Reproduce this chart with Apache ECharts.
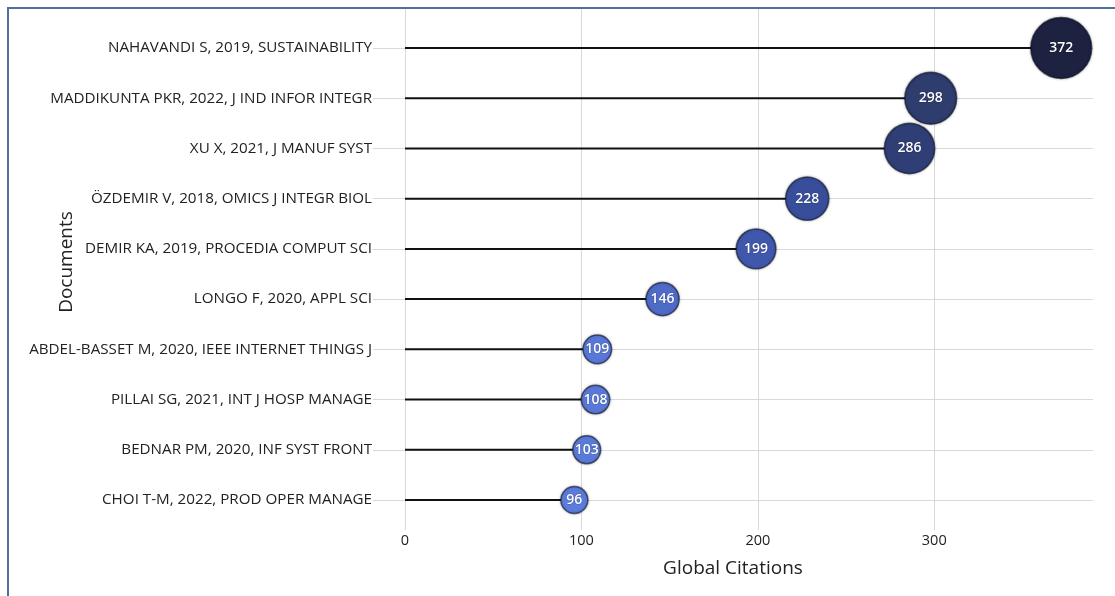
<!DOCTYPE html>
<html>
<head>
<meta charset="utf-8">
<script src="https://cdn.jsdelivr.net/npm/echarts@6/dist/echarts.min.js"></script>
<style>html,body{margin:0;padding:0;background:#fff;}#c{width:1115px;height:596px;}</style>
</head>
<body>
<div id="c"></div>
<script>
const categories = [
  "NAHAVANDI S, 2019, SUSTAINABILITY",
  "MADDIKUNTA PKR, 2022, J IND INFOR INTEGR",
  "XU X, 2021, J MANUF SYST",
  "ÖZDEMIR V, 2018, OMICS J INTEGR BIOL",
  "DEMIR KA, 2019, PROCEDIA COMPUT SCI",
  "LONGO F, 2020, APPL SCI",
  "ABDEL-BASSET M, 2020, IEEE INTERNET THINGS J",
  "PILLAI SG, 2021, INT J HOSP MANAGE",
  "BEDNAR PM, 2020, INF SYST FRONT",
  "CHOI T-M, 2022, PROD OPER MANAGE"
];
const citations = [372, 298, 286, 228, 199, 146, 109, 108, 103, 96];
const xTicks = [0, 100, 200, 300];

const FONT = "'Open Sans', 'Noto Sans', sans-serif";
const chart = echarts.init(document.getElementById('c'));
const gridCol = '#d9d9d9';

chart.setOption({
  animation: false,
  graphic: [{
    type: 'rect',
    shape: { x: 8, y: 8, width: 1300, height: 800 },
    style: { fill: 'none', stroke: '#4f6f9c', lineWidth: 2 },
    z: 100
  }],
  grid: { left: 405, right: 22, top: 48, bottom: 96, containLabel: false, outerBoundsMode: 'none' },
  visualMap: {
    show: false,
    seriesIndex: 1,
    dimension: 0,
    min: 96,
    max: 372,
    inRange: { color: ['#5c7cdd', '#4864c0', '#374c98', '#2d3b6b', '#1c2240'] }
  },
  xAxis: [{
    type: 'value',
    min: 0,
    max: 390,
    interval: 100,
    position: 'bottom',
    axisLine: { show: false },
    axisTick: { show: true, length: 30, customValues: xTicks, lineStyle: { color: gridCol } },
    axisLabel: { customValues: xTicks, margin: 33, fontSize: 14.5, color: '#222', fontFamily: FONT },
    splitLine: { show: true, lineStyle: { color: gridCol, width: 1 } },
    name: 'Global Citations',
    nameLocation: 'middle',
    nameGap: 59,
    nameMoveOverlap: false,
    nameTextStyle: { fontSize: 19, color: '#222', fontFamily: FONT, padding: [0, 32, 0, 0] }
  }, {
    type: 'value',
    min: 0,
    max: 390,
    interval: 100,
    position: 'top',
    axisLine: { show: false },
    axisTick: { show: true, length: 40, customValues: xTicks, lineStyle: { color: gridCol } },
    axisLabel: { show: false },
    splitLine: { show: false }
  }],
  yAxis: {
    type: 'category',
    inverse: true,
    boundaryGap: false,
    data: categories,
    axisLine: { show: false },
    axisTick: { show: true, length: 32, lineStyle: { color: gridCol } },
    axisLabel: { margin: 33, fontSize: 15.2, color: '#222', fontFamily: FONT },
    splitLine: { show: true, lineStyle: { color: gridCol, width: 1 } },
    name: 'Documents',
    nameLocation: 'middle',
    nameGap: 329,
    nameMoveOverlap: false,
    nameTextStyle: { fontSize: 19, color: '#222', fontFamily: FONT, padding: [0, 0, 0, 24] }
  },
  series: [{
    type: 'bar',
    xAxisIndex: 0,
    data: citations,
    barWidth: 2,
    itemStyle: { color: '#111' },
    z: 2,
    silent: true
  }, {
    type: 'scatter',
    xAxisIndex: 0,
    data: citations.map((v, i) => [v, categories[i]]),
    symbol: 'circle',
    symbolSize: function (d) { return 15.2 + 0.123 * d[0]; },
    itemStyle: {
      borderColor: 'rgba(12,16,36,0.6)',
      borderWidth: 1.5,
      shadowBlur: 3,
      shadowColor: 'rgba(0,0,0,0.3)',
      opacity: 1
    },
    label: {
      show: true,
      position: 'inside',
      formatter: function (p) { return String(p.value[0]); },
      color: '#fff',
      fontSize: 14,
      fontWeight: 600,
      fontFamily: FONT,
      textBorderColor: 'rgba(0,0,0,0.25)',
      textBorderWidth: 1
    },
    z: 3
  }]
});
</script>
</body>
</html>
